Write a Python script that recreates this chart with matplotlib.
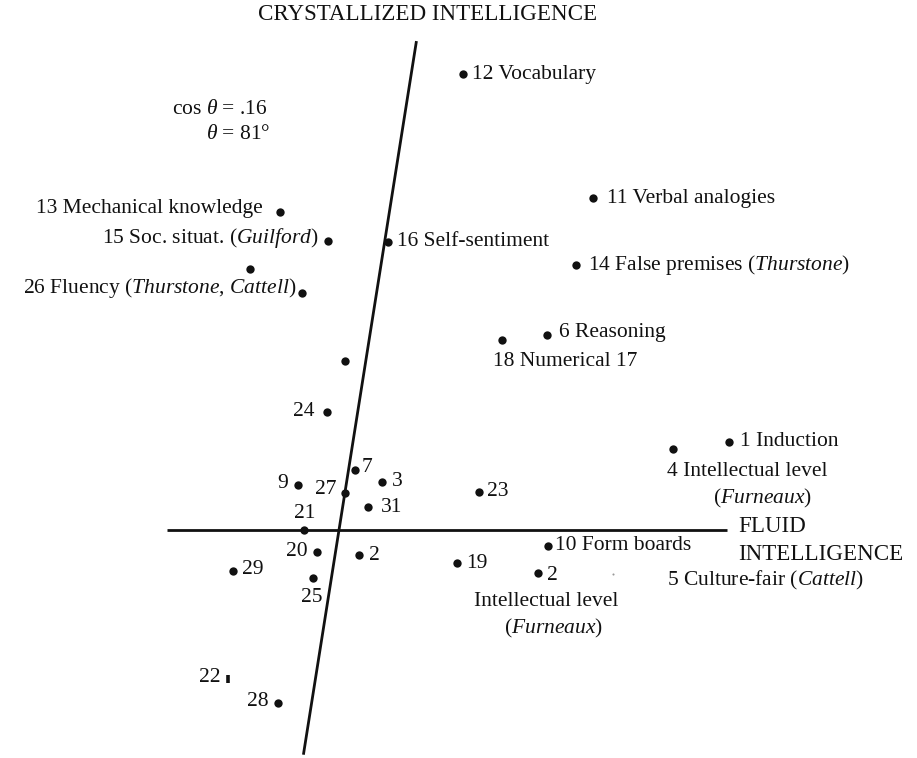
import numpy as np
import matplotlib
matplotlib.use("Agg")
import matplotlib.pyplot as plt

plt.rcParams['font.family'] = ['Liberation Serif', 'DejaVu Serif']
plt.rcParams['mathtext.fontset'] = 'custom'
plt.rcParams['mathtext.rm'] = 'Liberation Serif'
plt.rcParams['mathtext.it'] = 'Liberation Serif:italic'

# ---- data: projections of tests on the fluid (x) and crystallized (y) plane ----
point_ids = ["12", "11", "14", "6", "18", "13", "15", "u1", "26", "16", "u2",
             "24", "7", "3", "9", "27", "31", "23", "21", "20", "2", "19",
             "29", "25", "28", "4", "1", "10", "2b", "5"]
fluid_x = [0.248, 0.508, 0.474, 0.416, 0.326, -0.118, -0.022, -0.178, -0.074, 0.098, 0.012,
           -0.024, 0.032, 0.086, -0.082, 0.012, 0.058, 0.280, -0.070, -0.044, 0.040, 0.236,
           -0.212, -0.052, -0.122, 0.668, 0.780, 0.418, 0.398, 0.548]
cryst_y = [0.912, 0.664, 0.530, 0.390, 0.380, 0.636, 0.578, 0.522, 0.474, 0.576, 0.338,
           0.236, 0.120, 0.096, 0.090, 0.074, 0.046, 0.076, 0.000, -0.044, -0.050, -0.066,
           -0.082, -0.096, -0.346, 0.162, 0.176, -0.032, -0.086, -0.088]
# test 22 (drawn as a small tick)
tick22_x = [-0.222]
tick22_y = [-0.298]

cos_theta = 0.16
theta_deg = 81
crystal_axis_extent = [0.99, -0.455]   # along the oblique axis
fluid_axis_extent = [-0.344, 0.776]

labels = {
    "12": "12 Vocabulary",
    "11": "11 Verbal analogies",
    "14": r"14 False premises ($\mathit{Thurstone}$)",
    "6": "6 Reasoning",
    "18": "18 Numerical 17",
    "13": "13 Mechanical knowledge",
    "15": r"15 Soc. situat. ($\mathit{Guilford}$)",
    "26": r"26 Fluency ($\mathit{Thurstone}$, $\mathit{Cattell}$)",
    "16": "16 Self-sentiment",
    "24": "24", "7": "7", "3": "3", "9": "9", "27": "27", "31": "31", "23": "23",
    "21": "21", "20": "20", "2": "2", "19": "19", "29": "29", "25": "25", "28": "28",
    "1": "1 Induction",
    "4": "4 Intellectual level",
    "10": "10 Form boards",
    "2b": "2",
    "5": r"5 Culture-fair ($\mathit{Cattell}$)",
}
extra_labels = [("4", r"($\mathit{Furneaux}$)"),
                ("2b", "Intellectual level"),
                ("2b", r"($\mathit{Furneaux}$)")]

# ---- layout (pixel offsets, alignment) ----
layout = {
    "12": (9, 0, "left"), "11": (14, 0, "left"), "14": (12, 0, "left"),
    "6": (12, 3, "left"), "18": (-9, -21, "left"), "13": (-17, 4, "right"),
    "15": (-9, 3, "right"), "26": (-6, 5, "right"), "16": (9, 0, "left"),
    "24": (-12, 0, "right"), "7": (7, 2, "left"), "3": (10, 0, "left"),
    "9": (-10, 2, "right"), "27": (-8, 3, "right"), "31": (13, 0, "left"),
    "23": (8, 0, "left"), "21": (1, 16, "center"), "20": (-9, 0, "right"),
    "2": (10, 0, "left"), "19": (9, 0, "left"), "29": (9, 1, "left"),
    "25": (-1, -20, "center"), "28": (-9, 1, "right"), "1": (11, 0, "left"),
    "4": (-6, -22, "left"), "10": (7, 0, "left"), "2b": (9, -2, "left"),
    "5": (54, -6, "left"),
}
extra_layout = [(89, -49, "center"), (8, -29, "center"), (15, -55, "center")]

W, H, DPI = 917, 758, 100
fig = plt.figure(figsize=(W / DPI, H / DPI), dpi=DPI)
ax = fig.add_axes([0, 0, 1, 1])
ax.set_xlim(-0.678, 1.156)
ax.set_ylim(-0.456, 1.06)
ax.axis("off")

ink = "#111111"
FS = 15.5
FS_CAP = 16.6

# axes
ax.plot(fluid_axis_extent, [0, 0], color=ink, lw=2.0, solid_capstyle="butt")
th = np.radians(theta_deg)
cx = [np.cos(th) * t for t in crystal_axis_extent]
cy = [np.sin(th) * t for t in crystal_axis_extent]
ax.plot(cx, cy, color=ink, lw=2.0, solid_capstyle="butt")

# points
main_idx = [i for i, p in enumerate(point_ids) if p != "5"]
ax.plot([fluid_x[i] for i in main_idx], [cryst_y[i] for i in main_idx], "o",
        color=ink, ms=6, mew=0, zorder=3)
i5 = point_ids.index("5")
ax.plot([fluid_x[i5]], [cryst_y[i5]], "o", color="#999999", ms=1.5, mew=0)
ax.plot(tick22_x, tick22_y, "|", color=ink, ms=6, mew=2.6)
ax.annotate("22", (tick22_x[0], tick22_y[0]), xytext=(-7, 2),
            textcoords="offset pixels", ha="right", va="center",
            fontsize=FS, color=ink)

for pid, text in labels.items():
    i = point_ids.index(pid)
    dx, dy, ha = layout[pid]
    ax.annotate(text, (fluid_x[i], cryst_y[i]), xytext=(dx, dy),
                textcoords="offset pixels", ha=ha, va="center",
                fontsize=FS, color=ink)

for (pid, text), (dx, dy, ha) in zip(extra_labels, extra_layout):
    i = point_ids.index(pid)
    ax.annotate(text, (fluid_x[i], cryst_y[i]), xytext=(dx, dy),
                textcoords="offset pixels", ha=ha, va="center",
                fontsize=FS, color=ink)

# axis titles
ax.annotate("CRYSTALLIZED INTELLIGENCE", (cx[0], cy[0]), xytext=(11, 27),
            textcoords="offset pixels", ha="center", va="center",
            fontsize=FS_CAP, color=ink)
ax.annotate("FLUID", (fluid_axis_extent[1], 0), xytext=(11, 3),
            textcoords="offset pixels", ha="left", va="center",
            fontsize=FS_CAP, color=ink)
ax.annotate("INTELLIGENCE", (fluid_axis_extent[1], 0), xytext=(11, -24),
            textcoords="offset pixels", ha="left", va="center",
            fontsize=FS_CAP, color=ink)

# angle note
ax.text(-0.142, 0.842, r"cos $\theta$ = .%02d" % round(cos_theta * 100), ha="right",
        va="center", fontsize=FS, color=ink)
ax.text(-0.138, 0.791, r"$\theta$ = %d°" % theta_deg, ha="right",
        va="center", fontsize=FS, color=ink)

fig.savefig("out.png", dpi=DPI, facecolor="white")
